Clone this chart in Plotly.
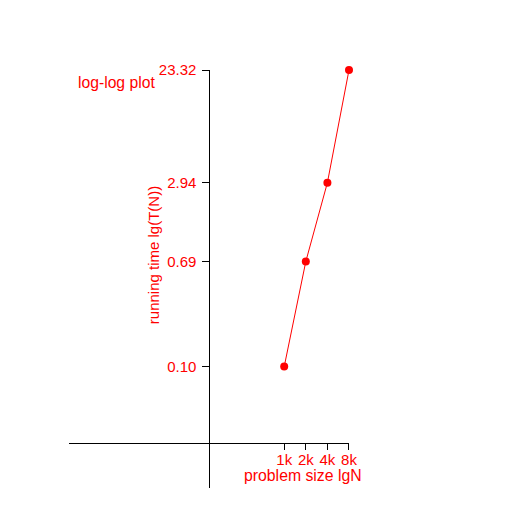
import plotly.graph_objects as go

sizes = [1000, 2000, 4000, 8000]
size_labels = ["1k", "2k", "4k", "8k"]
times = [0.10, 0.69, 2.94, 23.32]
time_labels = ["0.10", "0.69", "2.94", "23.32"]

RED = "#ff0000"
FONT = "Liberation Sans, Arial, sans-serif"

fig = go.Figure()
fig.add_trace(go.Scatter(
    x=sizes, y=times, mode="lines+markers",
    line=dict(color=RED, width=1),
    marker=dict(color=RED, size=8),
    cliponaxis=False, showlegend=False, hoverinfo="skip",
))

# page body adds an 8px offset; work in page pixels then shift
OFF = 8
W, H = 512, 512
L, R, T, B = 69 - OFF, 349.3 - OFF, 69.5 - OFF, 488 - OFF
fig.update_layout(
    width=W, height=H,
    margin=dict(l=L, r=W - R, t=T, b=H - B, pad=0, autoexpand=False),
    paper_bgcolor="white", plot_bgcolor="white",
    font=dict(family=FONT, size=15, color=RED),
    xaxis=dict(
        type="log", range=[0, 3.9032],
        tickvals=sizes, ticktext=size_labels,
        ticks="outside", ticklen=6, tickcolor="black", tickwidth=1,
        ticklabelstandoff=-3,
        showline=True, linecolor="black", linewidth=1,
        showgrid=False, zeroline=False,
        anchor="free", position=(488 - 442.5) / (488 - 69.5),
        tickfont=dict(color=RED, size=15, family=FONT),
    ),
    yaxis=dict(
        type="log", range=[-1.969, 1.3679],
        tickvals=times, ticktext=time_labels,
        ticks="outside", ticklen=7, tickcolor="black", tickwidth=1,
        ticklabelstandoff=3,
        showline=True, linecolor="black", linewidth=1,
        showgrid=False, zeroline=False,
        anchor="free", position=(209.5 - 69) / (349.3 - 69),
        tickfont=dict(color=RED, size=15, family=FONT),
    ),
    annotations=[
        dict(text="log-log plot", xref="paper", yref="paper",
             x=(76 - 69) / (349.3 - 69), y=(488 - 82) / (488 - 69.5),
             xanchor="left", yanchor="middle", showarrow=False,
             font=dict(color=RED, size=15.7, family=FONT)),
        dict(text="problem size lgN", xref="paper", yref="paper",
             x=(303 - 69) / (349.3 - 69), y=(488 - 475) / (488 - 69.5),
             xanchor="center", yanchor="middle", showarrow=False,
             font=dict(color=RED, size=15.8, family=FONT)),
        dict(text="running time lg(T(N))", xref="paper", yref="paper",
             x=(153 - 69) / (349.3 - 69), y=(488 - 255) / (488 - 69.5),
             xanchor="center", yanchor="middle", showarrow=False,
             textangle=-90,
             font=dict(color=RED, size=15, family=FONT)),
    ],
)

fig.write_html("out.html")
